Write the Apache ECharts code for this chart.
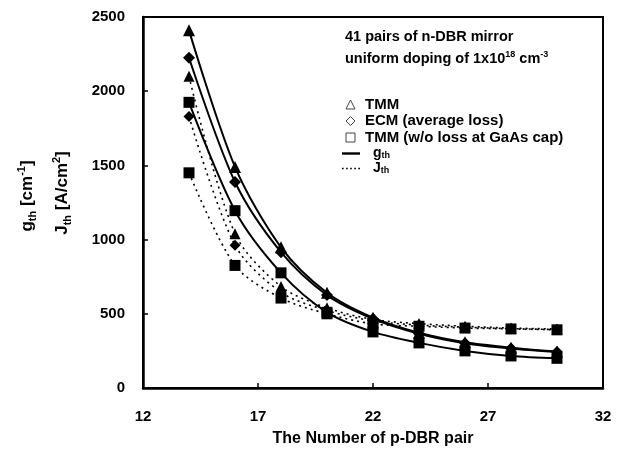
<!DOCTYPE html>
<html>
<head>
<meta charset="utf-8">
<script src="https://cdn.jsdelivr.net/npm/echarts@6/dist/echarts.min.js"></script>
<style>
html,body{margin:0;padding:0;background:#fff;}
#chart{width:630px;height:452px;}
</style>
</head>
<body>
<div id="chart"></div>
<script>
// x: number of p-DBR pairs
const pairs = [14, 16, 18, 20, 22, 24, 26, 28, 30];
// threshold gain g_th [cm^-1] (solid)
const gTMM   = [2410, 1490, 948, 642, 474, 372, 308, 272, 246];
const gECM   = [2225, 1388, 915, 626, 466, 366, 302, 266, 242];
const gWoCap = [1925, 1195, 776, 510, 378, 304, 250, 216, 200];
// threshold current density J_th [A/cm^2] (dotted)
const jTMM   = [2100, 1040, 684, 540, 462, 434, 416, 404, 398];
const jECM   = [1830, 962, 645, 522, 452, 424, 410, 400, 394];
const jWoCap = [1450, 826, 606, 500, 432, 416, 404, 398, 392];
const xTicks = [12, 17, 22, 27, 32];
const yTicks = [0, 500, 1000, 1500, 2000, 2500];

const FONT = 'Liberation Sans, Arial, sans-serif';
function pts(arr) { return pairs.map((x, i) => [x, arr[i]]); }

function dataSeries(name, arr, symbol, size, dotted) {
  return {
    name: name, type: 'line', data: pts(arr), smooth: 0.3,
    symbol: symbol, symbolSize: size,
    itemStyle: { color: '#000' },
    lineStyle: dotted ? { color: '#000', width: 1.6, type: [2, 4] } : { color: '#000', width: 2 },
    z: dotted ? 2 : 3, silent: true
  };
}

const chart = echarts.init(document.getElementById('chart'), null, { renderer: 'canvas' });

const legendRich = {
  t: { fontFamily: FONT, fontWeight: 'bold', fontSize: 15, color: '#000', lineHeight: 14, padding: [0, 0, 0, 5] },
  b: { fontFamily: FONT, fontWeight: 'bold', fontSize: 14, color: '#000', lineHeight: 13, padding: [0, 0, 0, 8] },
  s: { fontFamily: FONT, fontWeight: 'bold', fontSize: 9, color: '#000', verticalAlign: 'bottom' }
};
const hollow = { color: '#fff', borderColor: '#444', borderWidth: 1 };
const solidIcon = 'path://M0,0h18v2.4h-18z';
const dotIcon = 'path://M0,0h1.6v1.6h-1.6zM4,0h1.6v1.6h-1.6zM8,0h1.6v1.6h-1.6zM12,0h1.6v1.6h-1.6zM16,0h1.6v1.6h-1.6z';

const option = {
  backgroundColor: '#fff',
  animation: false,
  grid: { left: 143, right: 27, top: 17, bottom: 64, show: true, borderColor: '#000', borderWidth: 2, backgroundColor: 'transparent' },
  xAxis: {
    type: 'value', min: 12, max: 32, interval: 5,
    axisLine: { show: true, lineStyle: { color: '#000', width: 2.5 } },
    axisTick: { show: true, inside: true, length: 5, lineStyle: { color: '#000', width: 1.5 } },
    splitLine: { show: false },
    axisLabel: { color: '#000', fontFamily: FONT, fontWeight: 'bold', fontSize: 15, margin: 21,
      formatter: v => xTicks.includes(v) ? String(v) : '' },
    name: 'The Number of p-DBR pair', nameLocation: 'middle', nameGap: 43,
    nameTextStyle: { color: '#000', fontFamily: FONT, fontWeight: 'bold', fontSize: 16 }
  },
  yAxis: {
    type: 'value', min: 0, max: 2500, interval: 500,
    axisLine: { show: true, lineStyle: { color: '#000', width: 2.5 } },
    axisTick: { show: true, inside: true, length: 5, lineStyle: { color: '#000', width: 1.5 } },
    splitLine: { show: false },
    axisLabel: { color: '#000', fontFamily: FONT, fontWeight: 'bold', fontSize: 15, margin: 18,
      formatter: v => yTicks.includes(v) ? String(v) : '' }
  },
  legend: [
    {
      orient: 'vertical', left: 345.5, top: 97, padding: 0, itemWidth: 9, itemHeight: 9, itemGap: 1.5,
      textStyle: { rich: legendRich },
      formatter: n => '{t|' + n + '}',
      selectedMode: false,
      data: [
        { name: 'TMM', icon: 'triangle', itemStyle: hollow },
        { name: 'ECM (average loss)', icon: 'diamond', itemStyle: hollow },
        { name: 'TMM (w/o loss at GaAs cap)', icon: 'rect', itemStyle: hollow }
      ]
    },
    {
      orient: 'vertical', left: 342, top: 146.5, padding: 0, itemWidth: 18, itemHeight: 2.4, itemGap: 1,
      selectedMode: false,
      textStyle: { rich: legendRich },
      formatter: n => n === 'gth' ? '{b|g}{s|th}' : '{b|J}{s|th}',
      data: [
        { name: 'gth', icon: solidIcon, itemStyle: { color: '#000', borderWidth: 0 } },
        { name: 'Jth', icon: dotIcon, itemStyle: { color: '#000', borderWidth: 0 } }
      ]
    }
  ],
  graphic: [
    { type: 'text', left: 345, top: 29, style: { text: '41 pairs of n-DBR mirror', fill: '#000', font: 'bold 14.5px ' + FONT } },
    { type: 'text', left: 345, top: 50, style: {
        text: '{a|uniform doping of 1x10}{p|18}{a| cm}{p|-3}',
        rich: {
          a: { fill: '#000', fontFamily: FONT, fontWeight: 'bold', fontSize: 14.5, lineHeight: 18 },
          p: { fill: '#000', fontFamily: FONT, fontWeight: 'bold', fontSize: 9, verticalAlign: 'top' }
        } } },
    { type: 'text', x: 27, y: 196, rotation: Math.PI / 2, style: {
        text: '{a|g}{s|th}{a| [cm}{p|-1}{a|]}', align: 'center', verticalAlign: 'middle',
        rich: {
          a: { fill: '#000', fontFamily: FONT, fontWeight: 'bold', fontSize: 17, lineHeight: 22 },
          s: { fill: '#000', fontFamily: FONT, fontWeight: 'bold', fontSize: 11, verticalAlign: 'bottom' },
          p: { fill: '#000', fontFamily: FONT, fontWeight: 'bold', fontSize: 11, verticalAlign: 'top' }
        } } },
    { type: 'text', x: 62, y: 193, rotation: Math.PI / 2, style: {
        text: '{a|J}{s|th}{a| [A/cm}{p|2}{a|]}', align: 'center', verticalAlign: 'middle',
        rich: {
          a: { fill: '#000', fontFamily: FONT, fontWeight: 'bold', fontSize: 17, lineHeight: 22 },
          s: { fill: '#000', fontFamily: FONT, fontWeight: 'bold', fontSize: 11, verticalAlign: 'bottom' },
          p: { fill: '#000', fontFamily: FONT, fontWeight: 'bold', fontSize: 11, verticalAlign: 'top' }
        } } }
  ],
  series: [
    dataSeries('J TMM', jTMM, 'triangle', 11, true),
    dataSeries('J ECM', jECM, 'diamond', 11, true),
    dataSeries('J w/o cap', jWoCap, 'rect', 11, true),
    dataSeries('g TMM', gTMM, 'triangle', 12, false),
    dataSeries('g ECM', gECM, 'diamond', 12, false),
    dataSeries('g w/o cap', gWoCap, 'rect', 11, false),
    { name: 'TMM', type: 'line', data: [], symbol: 'none' },
    { name: 'ECM (average loss)', type: 'line', data: [], symbol: 'none' },
    { name: 'TMM (w/o loss at GaAs cap)', type: 'line', data: [], symbol: 'none' },
    { name: 'gth', type: 'line', data: [], symbol: 'none' },
    { name: 'Jth', type: 'line', data: [], symbol: 'none' }
  ]
};
chart.setOption(option);
</script>
</body>
</html>
